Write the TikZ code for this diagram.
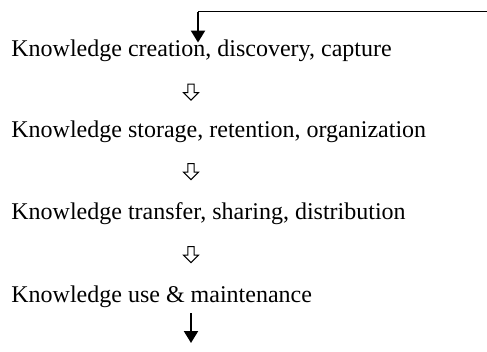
\documentclass[tikz,border=0pt]{standalone}
\usepackage{fontspec}
\setmainfont{Liberation Serif}
\usetikzlibrary{shapes.arrows,arrows.meta}
\begin{document}
\begin{tikzpicture}[x=0.5pt, y=-0.5pt, font=\fontsize{12}{14}\selectfont,
  stage/.style={anchor=base west, inner sep=0pt},
  hollowdown/.style={draw, line width=0.5pt, single arrow, shape border rotate=270,
    minimum height=8pt, minimum width=6.8pt, inner sep=1.3pt,
    single arrow head extend=2.1pt, single arrow head indent=0pt},
  solidarrow/.style={-{Triangle[width=7pt,length=6pt]}, line width=1.1pt}]
  \useasboundingbox (0,0) rectangle (487,352);
  \node[stage] (t1) at (11,57) {Knowledge creation, discovery, capture};
  \node[stage] (t2) at (11,138) {Knowledge storage, retention, organization};
  \node[stage] (t3) at (11,220) {Knowledge transfer, sharing, distribution};
  \node[stage] (t4) at (11,302) {Knowledge use \& maintenance};
  % hollow arrows between the stages
  \node[hollowdown] (d1) at (191,90.5) {};
  \node[hollowdown] (d2) at (191,170) {};
  \node[hollowdown] (d3) at (191,253) {};
  % feedback line into the first stage
  \coordinate (back) at (487,12);
  \coordinate (corner) at (198,12);
  \coordinate (out) at (191,343);
  \draw[line width=0.5pt] (back) -- (corner);
  \draw[solidarrow, shorten >=-1.3pt] (corner) -- (corner |- t1.north);
  \draw[solidarrow, shorten <=2.75pt] (t4.south -| out) -- (out);
\end{tikzpicture}
\end{document}
